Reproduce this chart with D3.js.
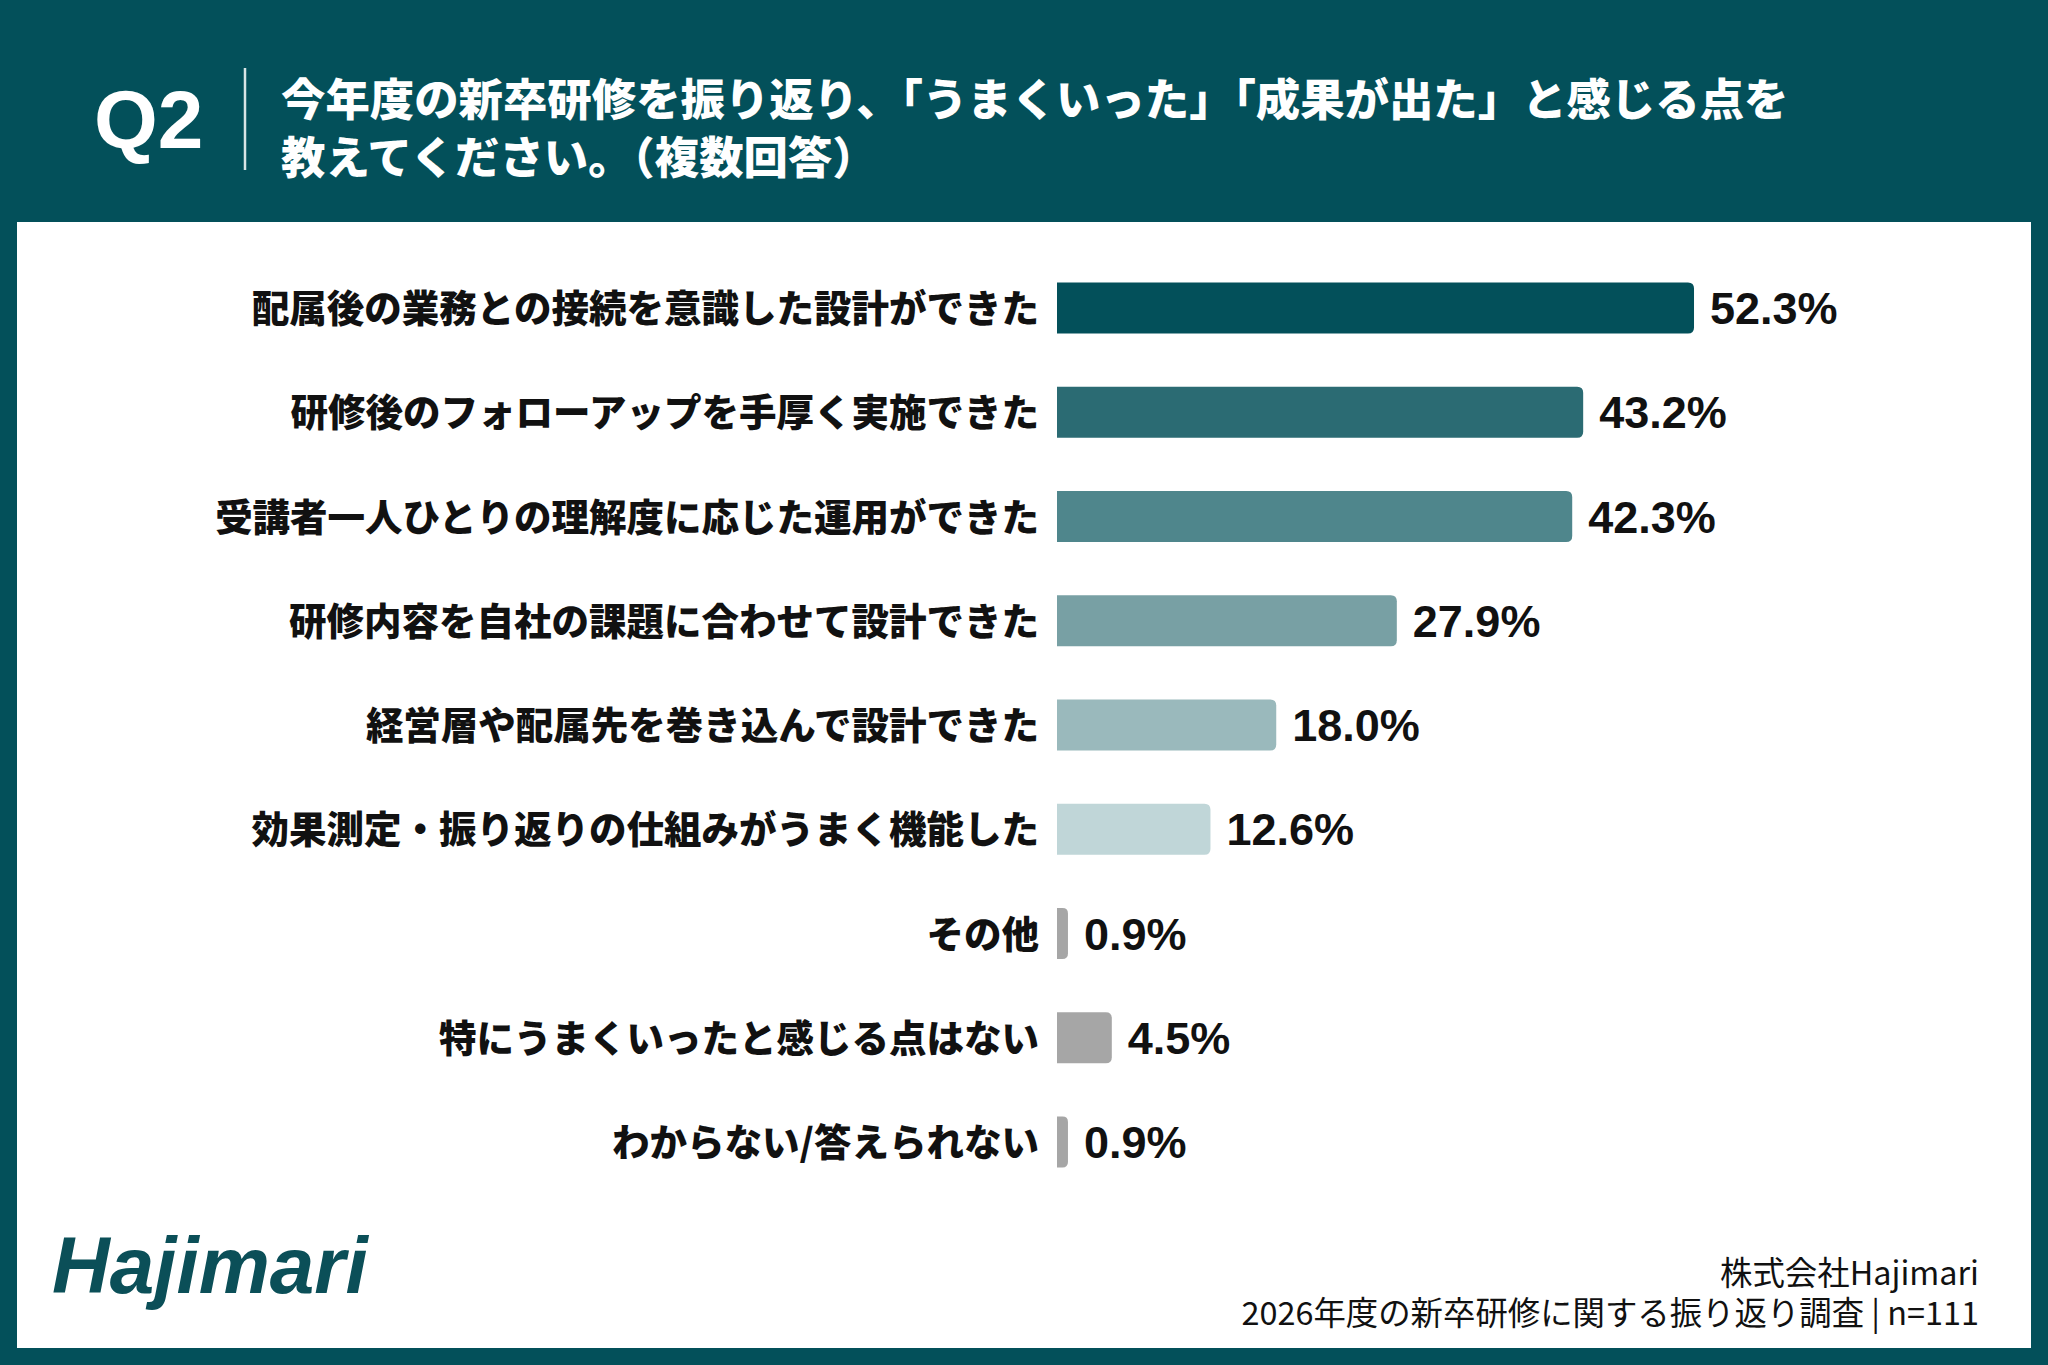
<!DOCTYPE html>
<html>
<head>
<meta charset="utf-8">
<script src="https://cdn.jsdelivr.net/npm/d3@7"></script>
<style>
  html, body { margin: 0; padding: 0; background: #03505a; }
  svg { display: block; }
</style>
</head>
<body>
<svg id="chart" width="2048" height="1365"></svg>
<script>
// ---- data ----
const categories = [
  "配属後の業務との接続を意識した設計ができた",
  "研修後のフォローアップを手厚く実施できた",
  "受講者一人ひとりの理解度に応じた運用ができた",
  "研修内容を自社の課題に合わせて設計できた",
  "経営層や配属先を巻き込んで設計できた",
  "効果測定・振り返りの仕組みがうまく機能した",
  "その他",
  "特にうまくいったと感じる点はない",
  "わからない/答えられない"
];
const values = [52.3, 43.2, 42.3, 27.9, 18.0, 12.6, 0.9, 4.5, 0.9];
const barColors = ["#03505a", "#2b6b73", "#4f868c", "#78a0a4", "#9ab9bc", "#c0d6d8", "#a6a6a6", "#a6a6a6", "#a6a6a6"];
const questionNo = "Q2";
const titleLines = [
  "今年度の新卒研修を振り返り、「うまくいった」「成果が出た」と感じる点を",
  "教えてください。（複数回答）"
];
const footerLines = ["株式会社Hajimari", "2026年度の新卒研修に関する振り返り調査 | n=111"];
const logoText = "Hajimari";

// ---- layout ----
const W = 2048, H = 1365;
const teal = "#03505a";
const svg = d3.select("#chart");

svg.append("rect").attr("x", 0).attr("y", 0).attr("width", W).attr("height", H).attr("fill", teal);
svg.append("rect").attr("x", 17).attr("y", 222).attr("width", 2014).attr("height", 1126).attr("fill", "#ffffff");

// header
svg.append("text").attr("x", 94).attr("y", 148)
  .attr("font-family", "'Liberation Sans', Arial, sans-serif").attr("font-weight", 700)
  .attr("font-size", 82).attr("fill", "#ffffff").text(questionNo);
svg.append("line").attr("x1", 245).attr("x2", 245).attr("y1", 68).attr("y2", 170)
  .attr("stroke", "#ffffff").attr("stroke-width", 2.5).attr("stroke-opacity", 0.85);
svg.append("text")
  .attr("font-family", "'Noto Sans CJK JP', sans-serif").attr("font-weight", 900)
  .attr("font-size", 44.4).attr("fill", "#ffffff")
  .selectAll("tspan").data(titleLines).join("tspan")
  .attr("x", 281).attr("y", (d, i) => 116 + i * 58).text(d => d);

// scales
const step = 104.25;
const y = d3.scaleBand().domain(categories)
  .range([308 - step / 2, 308 + 8 * step + step / 2])
  .paddingInner(0.511).paddingOuter(0.2555);
const x = d3.scaleLinear().domain([0, 60]).range([1057, 1057 + 60 * 12.18]);

function barPath(x0, x1, y0, h, r) {
  const w = x1 - x0;
  r = Math.min(r, w / 2, h / 2);
  return `M${x0},${y0}H${x1 - r}Q${x1},${y0} ${x1},${y0 + r}V${y0 + h - r}Q${x1},${y0 + h} ${x1 - r},${y0 + h}H${x0}Z`;
}

const rows = categories.map((c, i) => ({ c, v: values[i], col: barColors[i] }));

svg.append("g").selectAll("path").data(rows).join("path")
  .attr("d", d => barPath(x(0), x(d.v), y(d.c), y.bandwidth(), 6))
  .attr("fill", d => d.col);

svg.append("g").selectAll("text").data(rows).join("text")
  .attr("x", x(0) - 18)
  .attr("y", d => y(d.c) + y.bandwidth() / 2 + 14)
  .attr("text-anchor", "end")
  .attr("font-family", "'Noto Sans CJK JP', sans-serif").attr("font-weight", 900)
  .attr("font-size", 37.5).attr("fill", "#111111")
  .text(d => d.c);

svg.append("g").selectAll("text").data(rows).join("text")
  .attr("x", d => x(d.v) + 16)
  .attr("y", d => y(d.c) + y.bandwidth() / 2 + 16)
  .attr("font-family", "'Liberation Sans', Arial, sans-serif").attr("font-weight", 700)
  .attr("font-size", 45).attr("fill", "#111111")
  .text(d => d.v.toFixed(1) + "%");

// footer
svg.append("text").attr("x", 52).attr("y", 1293)
  .attr("font-family", "'Liberation Sans', Arial, sans-serif").attr("font-weight", 700)
  .attr("font-style", "italic").attr("font-size", 80).attr("fill", "#0b4f58").text(logoText);
svg.append("text")
  .attr("text-anchor", "end")
  .attr("font-family", "'Noto Sans CJK JP', sans-serif").attr("font-weight", 400)
  .attr("font-size", 32.4).attr("fill", "#111111")
  .selectAll("tspan").data(footerLines).join("tspan")
  .attr("x", 1979).attr("y", (d, i) => 1285 + i * 40).text(d => d);
</script>
</body>
</html>
